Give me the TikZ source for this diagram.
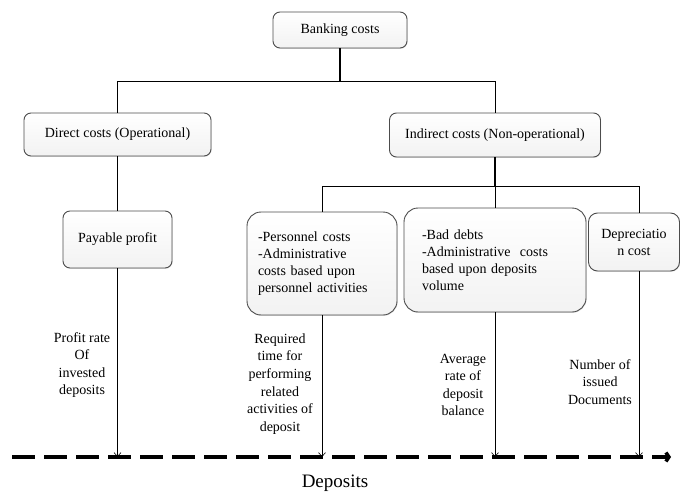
\documentclass[tikz,border=0pt]{standalone}
\usepackage{fontspec}
\setmainfont{Liberation Serif}
\usepackage{tikz}
\usetikzlibrary{arrows.meta, shadows}

\begin{document}
\begin{tikzpicture}[
  x=1pt, y=-1pt,
  every node/.style={font=\fontsize{14}{17}\selectfont},
  box/.style={
    draw=black!70, line width=0.9pt, rounded corners=7pt,
    top color=white, bottom color=black!5,
    drop shadow={shadow xshift=0.6pt, shadow yshift=-0.8pt, opacity=0.25},
    align=center, inner sep=4pt
  },
  bigbox/.style={box, rounded corners=14pt, align=left},
  link/.style={draw, line width=0.7pt},
  trunk/.style={draw, line width=1.3pt},
  measure/.style={line width=0.6pt, -{Straight Barb[length=4pt, width=7pt]}},
  axis/.style={line width=3.5pt, dash pattern=on 23pt off 9pt, -{Straight Barb[length=3pt, width=9pt]}},
  driver/.style={align=center, font=\fontsize{14}{17.6}\selectfont}
]
\useasboundingbox (0,0) rectangle (680,495);

% --- Level 1 and 2: cost groups ---
\node[box, minimum width=134pt, minimum height=36pt] (bank) at (340,30) {Banking costs};
\node[box, minimum width=187pt, minimum height=43pt] (direct) at (117.5,134.5) {Direct costs (Operational)};
\node[box, minimum width=211pt, minimum height=44pt] (indirect) at (495,135) {Indirect costs (Non-operational)};

% --- Level 3: cost items ---
\node[box, minimum width=109pt, minimum height=57pt] (payable) at (117.5,239.5) {Payable profit};
\node[bigbox, text width=128pt, inner xsep=11pt, minimum height=103pt] (personnel) at (322,263.5) {-Personnel costs\\-Administrative\\costs based upon\\personnel activities};
\node[bigbox, text width=146pt, inner xsep=18pt, minimum height=104pt] (baddebts) at (495,260) {-Bad debts\\-Administrative\ \ costs\\based upon deposits\\volume};
\node[box, minimum width=91pt, minimum height=58pt, rounded corners=9pt] (deprec) at (634,242) {Depreciatio\\n cost};

% --- Tree connectors ---
\coordinate (bus1) at (340,81);
\coordinate (bus2) at (495,186);
\coordinate (bus2R) at (639,186);
\draw[trunk] (bank.south) -- (bus1);
\draw[link] (bus1) -| (direct.north);
\draw[link] (bus1) -| (indirect.north);
\draw[link] (direct) -- (payable);
\draw[trunk] (indirect.south) -- (bus2);
\draw[link] (bus2) -| (personnel.north);
\draw[link] (bus2) -- (baddebts.north);
\draw[link] (bus2) -- (bus2R) -- (bus2R |- deprec.north);

% --- Deposits axis ---
\coordinate (axisL) at (12,457);
\coordinate (axisR) at (671,457);
\draw[axis] (axisL) -- (axisR);
\node[font=\fontsize{19}{22}\selectfont] (lbldeposits) at (335,483) {Deposits};

% --- Cost drivers ---
\draw[measure] (payable.south) -- (payable.south |- axisL);
\draw[measure] (personnel.south) -- (personnel.south |- axisL);
\draw[measure] (baddebts.south) -- (baddebts.south |- axisL);
\draw[measure] (bus2R |- deprec.south) -- (bus2R |- axisL);

\node[driver] (lblprofit) at (82,365) {Profit rate\\Of\\invested\\deposits};
\node[driver] (lbltime) at (280,384) {Required\\time for\\performing\\related\\activities of\\deposit};
\node[driver] (lblbalance) at (463,385) {Average\\rate of\\deposit\\balance};
\node[driver] (lbldocs) at (600,382) {Number of\\issued\\Documents};

\end{tikzpicture}
\end{document}
